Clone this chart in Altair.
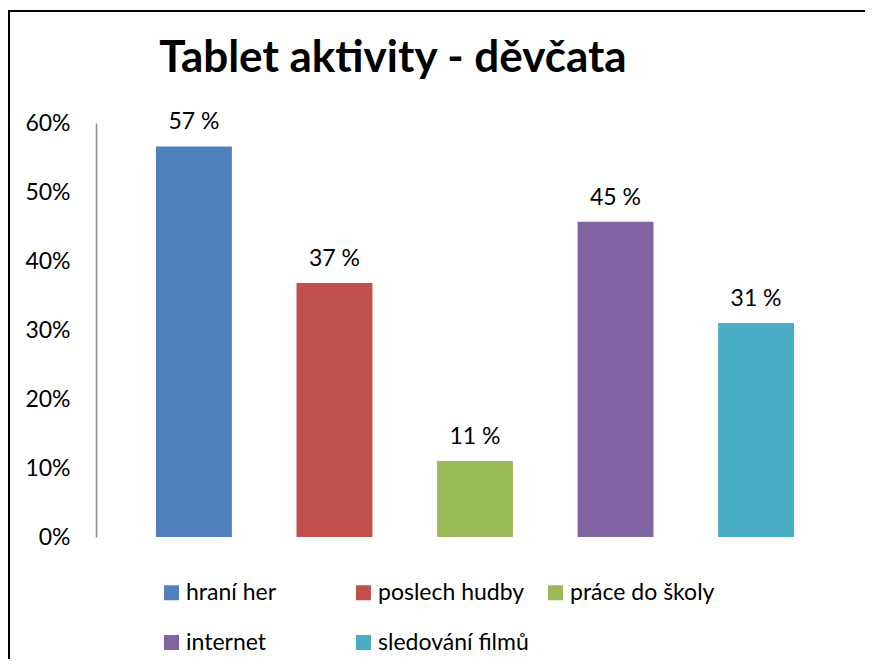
import altair as alt
import pandas as pd

categories = ["hraní her", "poslech hudby", "práce do školy", "internet", "sledování filmů"]
values = [0.566, 0.368, 0.110, 0.457, 0.310]
labels = ["57 %", "37 %", "11 %", "45 %", "31 %"]
colors = ["#4F81BD", "#C0504D", "#9BBB59", "#8064A2", "#4BACC6"]
y_ticks = [0, 0.1, 0.2, 0.3, 0.4, 0.5, 0.6]
title_text = "Tablet aktivity - děvčata"

FONT = "Lato"
FS = 23

df = pd.DataFrame({"cat": categories, "val": values, "lab": labels})
tdf = pd.DataFrame({"t": [title_text]})

x = alt.X("cat:N", sort=categories, axis=None,
          scale=alt.Scale(paddingInner=0.46, paddingOuter=0.427))
y = alt.Y("val:Q", scale=alt.Scale(domain=[0, 0.6], nice=False),
          axis=alt.Axis(format=".0%", values=y_ticks, grid=False, ticks=False,
                        domainColor="#8c8c8c", domainWidth=1.5, labelFontSize=FS,
                        labelFont=FONT, labelColor="black", labelPadding=26, title=None))

bars = alt.Chart(df).mark_bar().encode(
    x=x, y=y,
    color=alt.Color("cat:N", sort=categories,
                    scale=alt.Scale(domain=categories, range=colors),
                    legend=alt.Legend(title=None, orient="none", legendX=64, legendY=458,
                                      direction="horizontal", columns=3, gridAlign="all",
                                      columnPadding=15, rowPadding=26, symbolType="square",
                                      symbolSize=225, symbolStrokeWidth=0, labelFontSize=FS,
                                      labelFont=FONT, labelColor="black", labelOffset=3)),
)

text = alt.Chart(df).mark_text(baseline="alphabetic", dy=-17, fontSize=FS, font=FONT,
                               color="black").encode(x=x, y=y, text="lab:N")

title = alt.Chart(tdf).mark_text(fontSize=44, fontWeight="bold", font=FONT, color="black",
                                 align="center", baseline="alphabetic").encode(
    x=alt.value(297), y=alt.value(-51), text="t:N")

border = alt.Chart(tdf).mark_rect(fill="transparent", stroke="black", strokeWidth=2).encode(
    x=alt.value(-87), x2=alt.value(900), y=alt.value(-112), y2=alt.value(700))

chart = alt.layer(border, bars, text, title).properties(
    width=758, height=414,
    padding={"left": 88, "top": 115, "right": 11, "bottom": 122},
    autosize="none",
).configure_view(strokeWidth=0)

chart.save("out.html", embed_options={"renderer": "svg", "actions": False})
